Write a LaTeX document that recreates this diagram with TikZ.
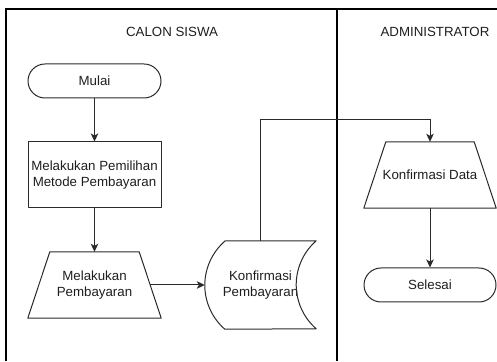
\documentclass[tikz,border=0pt]{standalone}
\usepackage{fontspec}
\setmainfont{Liberation Sans}
\usetikzlibrary{arrows.meta,calc}
\definecolor{ink}{HTML}{1E1E1E}
\definecolor{edge}{HTML}{2A2A2A}
\begin{document}
\begin{tikzpicture}[x=1pt,y=1pt,
  txt/.style={font=\fontsize{13.3}{15.5}\selectfont, text=ink, align=center, inner sep=0pt},
  lane/.style={draw=black, line width=1.1pt},
  outline/.style={draw=edge, line width=1pt, line join=round},
  termbox/.style={txt, outline, rectangle, rounded corners=17pt, minimum height=34pt},
  procbox/.style={txt, outline, rectangle, minimum height=66pt},
  ghost/.style={txt, rectangle, draw=none},
  flow/.style={draw=edge, line width=1pt, -{Stealth[length=8pt,width=7.5pt,inset=2pt]}}]
\useasboundingbox (0,0) rectangle (497,361);
% lanes
\coordinate (tl) at (6,352);
\coordinate (tr) at (497,352);
\coordinate (bl) at (6,0);
\coordinate (dt) at (337,352);
\coordinate (db) at (337,0);
\draw[lane] (bl) -- (tl) -- (tr);
\draw[lane] (dt) -- (db);
\node[txt] (lane1) at (172,329) {CALON SISWA};
\node[txt] (lane2) at (435,329) {ADMINISTRATOR};
% nodes
\node[termbox, minimum width=133pt] (mulai) at (94.5,280) {Mulai};
\node[procbox, minimum width=133pt] (pilih) at (94.5,186) {Melakukan Pemilihan\\Metode Pembayaran};
\node[ghost, minimum width=133pt, minimum height=66pt] (bayar) at (94.5,76) {Melakukan\\Pembayaran};
\draw[outline] (bayar.south west) -- ($(bayar.north west)+(22,0)$) -- ($(bayar.north east)+(-22,0)$) -- (bayar.south east) -- cycle;
\coordinate (bayarR) at ($(bayar.east)+(-11,0)$);
\node[ghost, minimum width=111pt, minimum height=88pt] (konf) at (260.5,76) {Konfirmasi\\Pembayaran};
\draw[outline] ($(konf.north west)+(20,0)$) -- (konf.north east)
  arc[start angle=131.1, end angle=228.9, radius=58.4pt]
  -- ($(konf.south west)+(20,0)$)
  arc[start angle=228.9, end angle=131.1, radius=58.4pt] -- cycle;
\node[ghost, minimum width=132pt, minimum height=66pt] (data) at (430,186) {Konfirmasi Data};
\draw[outline] (data.south west) -- ($(data.north west)+(22,0)$) -- ($(data.north east)+(-22,0)$) -- (data.south east) -- cycle;
\node[termbox, minimum width=132pt] (selesai) at (430,76) {Selesai};
% connectors
\draw[flow] (mulai) -- (pilih);
\draw[flow] (pilih) -- (bayar);
\draw[flow] (bayarR) -- (konf.west);
\draw[flow] (konf.north) -- ++(0,121) -| (data.north);
\draw[flow] (data) -- (selesai);
\end{tikzpicture}
\end{document}
